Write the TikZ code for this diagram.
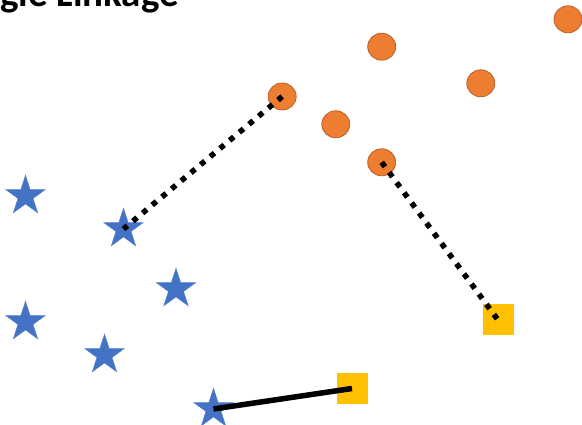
\documentclass[tikz,border=0pt]{standalone}
\usepackage{fontspec}
\setmainfont{Carlito}
\usetikzlibrary{shapes.geometric}
\definecolor{ptorange}{HTML}{ED7D31}
\definecolor{ptorangeedge}{HTML}{B7612A}
\definecolor{ptblue}{HTML}{4472C4}
\definecolor{ptblueedge}{HTML}{5A82CC}
\definecolor{ptgold}{HTML}{FFC000}
\tikzset{
  dotpt/.style={ellipse, minimum width=28pt, minimum height=27pt, inner sep=0pt,
    fill=ptorange, draw=ptorangeedge, line width=0.8pt},
  starpt/.style={star, star points=5, star point ratio=2.618, minimum size=41.5pt,
    inner sep=0pt, fill=ptblue, draw=ptblueedge, line width=0.5pt},
  sqpt/.style={rectangle, minimum size=31pt, inner sep=0pt, fill=ptgold},
  linkdotted/.style={line width=5.5pt, line cap=butt, dash pattern=on 5.5pt off 7.1pt},
  linksolid/.style={line width=5.5pt, line cap=butt},
}
\begin{document}
\begin{tikzpicture}[x=1pt,y=-1pt]
  \useasboundingbox (0,0) rectangle (582,425);
  \begin{scope}
    \clip (0,0) rectangle (582,425);
    \node[anchor=base east, inner sep=0pt, font=\bfseries\fontsize{39}{47}\selectfont]
      (title) at (179,6.5) {Single Linkage};

    % orange cluster
    \node[dotpt] (c1) at (568,19.3) {};
    \node[dotpt] (c2) at (381.7,46.7) {};
    \node[dotpt] (c3) at (480.8,83.3) {};
    \node[dotpt] (c4) at (282.2,96.5) {};
    \node[dotpt] (c5) at (335.8,124.3) {};
    \node[dotpt] (c6) at (381.7,162.3) {};

    % blue cluster
    \node[starpt] (s1) at (25.5,196) {};
    \node[starpt] (s2) at (123.5,229) {};
    \node[starpt] (s3) at (176,289) {};
    \node[starpt] (s4) at (25.5,322) {};
    \node[starpt] (s5) at (104.5,355) {};
    \node[starpt] (s6) at (213.5,409) {};

    % yellow cluster
    \node[sqpt] (q1) at (498,320) {};
    \node[sqpt] (q2) at (352,388.5) {};

    % closest-pair links
    \draw[linkdotted] (c4.center) -- (s2.center);
    \draw[linkdotted] (c6.center) -- (q1.center);
    \draw[linksolid] (s6.center) -- (q2.center);
  \end{scope}
\end{tikzpicture}
\end{document}
